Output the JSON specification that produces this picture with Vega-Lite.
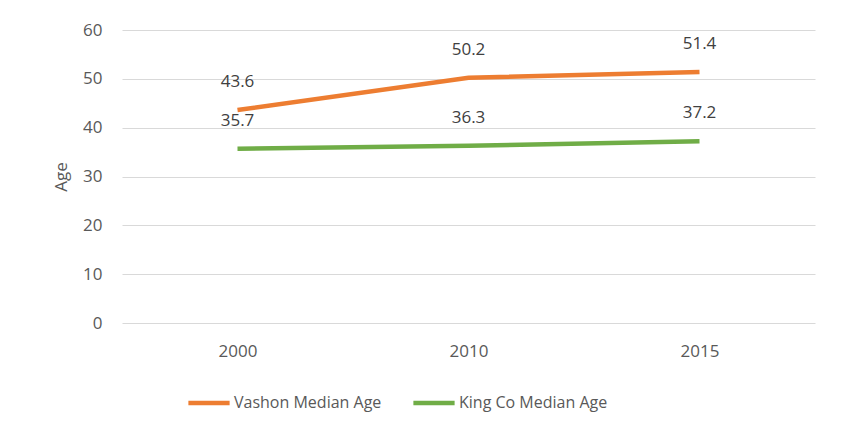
{
  "$schema": "https://vega.github.io/schema/vega-lite/v6.json",
  "width": 693,
  "height": 293,
  "autosize": {"type": "none"},
  "padding": {"left": 122, "top": 30, "right": 26, "bottom": 114},
  "background": "white",
  "config": {
    "view": {"stroke": null},
    "font": "Open Sans",
    "axis": {"labelFont": "Open Sans", "titleFont": "Open Sans", "labelColor": "#595959", "titleColor": "#595959", "labelFontSize": 17, "titleFontSize": 17, "titleFontWeight": "normal"}
  },
  "data": {
    "values": [
      {"year": "2000", "series": "Vashon Median Age", "age": 43.6},
      {"year": "2010", "series": "Vashon Median Age", "age": 50.2},
      {"year": "2015", "series": "Vashon Median Age", "age": 51.4},
      {"year": "2000", "series": "King Co Median Age", "age": 35.7},
      {"year": "2010", "series": "King Co Median Age", "age": 36.3},
      {"year": "2015", "series": "King Co Median Age", "age": 37.2}
    ]
  },
  "encoding": {
    "x": {
      "field": "year", "type": "ordinal",
      "scale": {"type": "point", "padding": 0.5},
      "axis": {"title": null, "labelAngle": 0, "domain": false, "ticks": false, "labelPadding": 20, "grid": false}
    },
    "y": {
      "field": "age", "type": "quantitative",
      "scale": {"domain": [0, 60], "nice": false},
      "axis": {"title": "Age", "values": [0, 10, 20, 30, 40, 50, 60], "domain": false, "ticks": false, "labelPadding": 20, "gridColor": "#d9d9d9", "gridWidth": 1, "titlePadding": 12}
    },
    "color": {
      "field": "series", "type": "nominal",
      "scale": {"domain": ["Vashon Median Age", "King Co Median Age"], "range": ["#ED7D31", "#70AD47"]},
      "legend": {
        "title": null, "orient": "none", "direction": "horizontal",
        "legendX": 64, "legendY": 350,
        "symbolType": "stroke", "symbolSize": 1700, "symbolStrokeWidth": 4.5,
        "labelFontSize": 16, "labelColor": "#595959", "labelFont": "Open Sans",
        "labelOffset": 2, "columnPadding": 22
      }
    }
  },
  "layer": [
    {"mark": {"type": "line", "strokeWidth": 4.5}},
    {
      "mark": {"type": "text", "dy": -28, "fontSize": 17, "color": "#404040"},
      "encoding": {"text": {"field": "age", "type": "quantitative", "format": ".1f"}, "color": {"value": "#404040"}}
    }
  ]
}
